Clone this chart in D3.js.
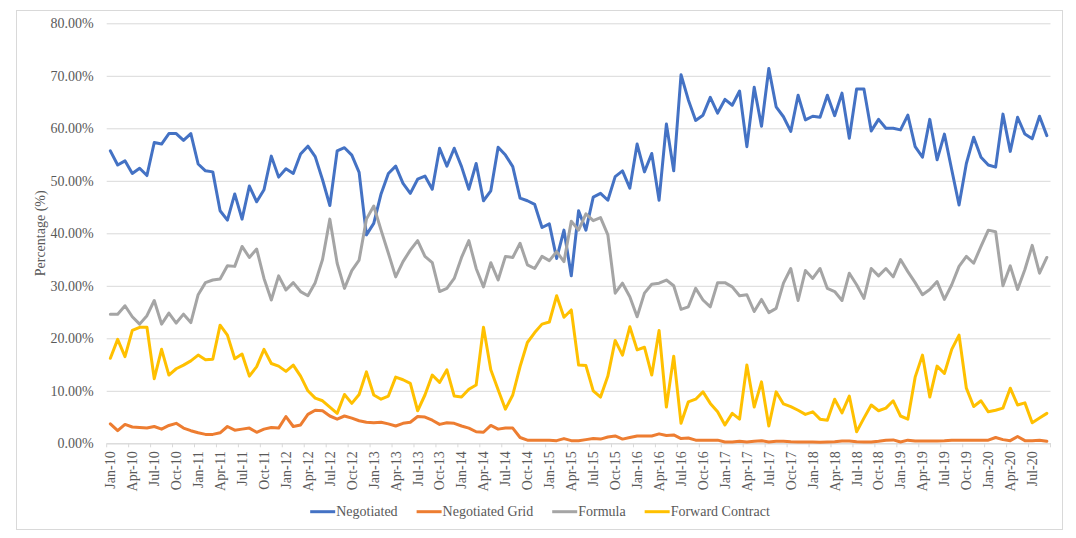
<!DOCTYPE html>
<html>
<head>
<meta charset="utf-8">
<script src="https://cdn.jsdelivr.net/npm/d3@7"></script>
<style>
  body { margin: 0; background: #fff; }
  svg text { font-family: "Liberation Serif", "DejaVu Serif", "Times New Roman", Times, serif !important; fill: #595959; }
</style>
</head>
<body>
<div id="plotDiv"></div>
<script>
// ---- Data (percent values) ----
const months = d3.timeMonth.range(new Date(2010, 0, 1), new Date(2020, 9, 1)); // Jan-10 .. Sep-20
const categories = months.map(d3.timeFormat("%b-%y"));
const tickLabels = categories.filter((d, i) => i % 3 === 0);
const yTicks = [0, 10, 20, 30, 40, 50, 60, 70, 80];

const negotiated = [
  55.7, 53.0, 53.8, 51.4, 52.4, 51.0, 57.3, 57.0, 59.0, 59.0, 57.7, 59.0, 53.2, 51.9, 51.7, 44.3, 42.5, 47.5, 42.7, 49.0, 46.0,
  48.3, 54.7, 50.7, 52.3, 51.4, 55.1, 56.6, 54.6, 50.2, 45.3, 55.7, 56.3, 54.9, 51.6, 39.7, 41.9, 47.5, 51.4, 52.8, 49.5, 47.6,
  50.3, 50.9, 48.4, 56.2, 52.8, 56.2, 52.7, 48.4, 53.3, 46.2, 48.1, 56.4, 54.9, 52.7, 46.7, 46.2, 45.5, 41.1, 41.8, 35.2, 40.6,
  31.9, 44.3, 40.6, 46.9, 47.6, 46.3, 50.8, 51.9, 48.6, 57.0, 51.7, 55.2, 46.3, 60.8, 51.9, 70.2, 65.4, 61.5, 62.5, 65.9, 62.9, 65.5,
  64.4, 67.1, 56.5, 67.8, 60.4, 71.4, 64.1, 62.2, 59.4, 66.3, 61.6, 62.3, 62.1, 66.3, 62.4, 66.7, 58.1, 67.5, 67.5, 59.5, 61.7,
  60.0, 60.0, 59.7, 62.5, 56.5, 54.5, 61.7, 54.0, 58.9, 52.1, 45.4, 53.3, 58.3, 54.5, 53.0, 52.6, 62.7, 55.6, 62.1, 58.9, 58.0, 62.3, 58.6
];
const negotiatedGrid = [
  3.7, 2.4, 3.6, 3.1, 3.0, 2.9, 3.2, 2.7, 3.4, 3.8, 2.9, 2.4, 2.0, 1.7, 1.7, 2.0, 3.2, 2.5, 2.7, 2.9, 2.1,
  2.7, 3.0, 2.9, 5.1, 3.2, 3.5, 5.5, 6.3, 6.2, 5.2, 4.6, 5.2, 4.8, 4.3, 4.0, 3.9, 4.0, 3.7, 3.3, 3.8, 4.0,
  5.1, 5.0, 4.4, 3.6, 3.9, 3.8, 3.3, 2.9, 2.2, 2.1, 3.4, 2.7, 2.9, 2.9, 1.1, 0.6, 0.6, 0.6, 0.6, 0.5, 0.9,
  0.5, 0.5, 0.7, 0.9, 0.8, 1.2, 1.4, 0.8, 1.1, 1.4, 1.4, 1.4, 1.8, 1.5, 1.6, 0.9, 1.0, 0.6, 0.6, 0.6, 0.6, 0.25,
  0.25, 0.4, 0.25, 0.4, 0.5, 0.25, 0.4, 0.4, 0.3, 0.25, 0.25, 0.25, 0.2, 0.25, 0.3, 0.45, 0.45, 0.3, 0.25, 0.25, 0.4,
  0.6, 0.65, 0.25, 0.6, 0.45, 0.45, 0.45, 0.45, 0.5, 0.6, 0.6, 0.6, 0.6, 0.6, 0.6, 1.1, 0.7, 0.5, 1.3, 0.5, 0.5, 0.6, 0.4
];
const formula = [
  24.6, 24.6, 26.2, 24.1, 22.7, 24.3, 27.2, 22.7, 24.8, 22.9, 24.6, 23.0, 28.3, 30.6, 31.1, 31.3, 33.8, 33.7, 37.5, 35.4, 37.0,
  31.4, 27.3, 31.9, 29.2, 30.6, 28.9, 28.1, 30.6, 35.0, 42.7, 34.3, 29.5, 32.9, 34.9, 42.7, 45.2, 40.6, 36.2, 31.7, 34.6, 36.8,
  38.6, 35.6, 34.4, 28.9, 29.5, 31.4, 35.4, 38.6, 33.3, 29.8, 34.4, 31.1, 35.6, 35.4, 38.1, 34.0, 33.3, 35.6, 34.8, 36.5, 34.6,
  42.3, 40.6, 43.7, 42.4, 43.0, 39.7, 28.6, 30.5, 27.9, 24.1, 28.6, 30.3, 30.5, 31.1, 30.0, 25.5, 26.0, 29.5, 27.3, 26.0, 30.6, 30.6,
  29.8, 28.1, 28.3, 25.1, 27.4, 24.9, 25.7, 30.5, 33.3, 27.2, 32.9, 31.4, 33.3, 29.5, 28.9, 27.2, 32.4, 30.2, 27.6, 33.3, 31.9,
  33.3, 31.7, 35.0, 32.7, 30.6, 28.3, 29.3, 30.8, 27.4, 30.2, 33.7, 35.6, 34.3, 37.5, 40.6, 40.3, 30.0, 33.8, 29.3, 33.1, 37.7, 32.4, 35.4
];
const forwardContract = [
  16.2, 19.8, 16.5, 21.5, 22.1, 22.1, 12.3, 17.9, 13.0, 14.2, 14.9, 15.7, 16.8, 15.9, 16.0, 22.5, 20.6, 16.1, 17.0, 12.8, 14.6,
  17.9, 15.2, 14.7, 13.7, 14.9, 12.8, 10.0, 8.6, 8.1, 6.9, 5.7, 9.3, 7.6, 9.3, 13.6, 9.2, 8.4, 9.0, 12.6, 12.1, 11.4,
  6.2, 9.2, 13.0, 11.6, 14.0, 9.0, 8.8, 10.3, 11.1, 22.1, 14.0, 10.2, 6.5, 9.2, 14.6, 19.2, 21.1, 22.7, 23.1, 28.1, 24.0,
  25.4, 14.9, 14.8, 10.0, 8.8, 12.8, 19.6, 16.8, 22.2, 17.8, 18.3, 13.0, 21.5, 6.9, 16.6, 3.8, 7.9, 8.4, 9.8, 7.6, 6.0, 3.5,
  5.7, 4.6, 14.9, 6.9, 11.7, 3.3, 9.8, 7.5, 7.0, 6.3, 5.5, 6.0, 4.6, 4.4, 8.4, 5.8, 9.0, 2.2, 4.8, 7.3, 6.2,
  6.7, 8.1, 5.2, 4.6, 12.6, 16.8, 8.8, 14.7, 13.3, 17.9, 20.6, 10.5, 7.0, 8.1, 6.0, 6.3, 6.7, 10.5, 7.3, 7.7, 3.9, 4.8, 5.7
];

const seriesNames = ["Negotiated", "Negotiated Grid", "Formula", "Forward Contract"];
const seriesValues = [negotiated, negotiatedGrid, formula, forwardContract];
const seriesColors = ["#4472C4", "#ED7D31", "#A5A5A5", "#FFC000"];

// ---- SVG setup ----
const width = 1076, height = 538;
const plot = {left: 106.7, right: 1050.5, top: 23.3, bottom: 443.3};

const svg = d3.select("#plotDiv").append("svg")
    .attr("width", width)
    .attr("height", height)
    .attr("font-family", "Liberation Serif, DejaVu Serif, serif");

svg.append("rect") // chart frame
    .attr("x", 16.5).attr("y", 10.5)
    .attr("width", 1046).attr("height", 519)
    .attr("fill", "#fff")
    .attr("stroke", "#D9D9D9");

// ---- Scales ----
const xScale = d3.scaleBand()
    .domain(categories)
    .range([plot.left, plot.right])
    .padding(0);

const yScale = d3.scaleLinear()
    .domain([0, 80])
    .range([plot.bottom, plot.top]);

const xMid = d => xScale(d) + xScale.bandwidth() / 2;

// ---- Gridlines + y axis ----
const yAxis = d3.axisLeft(yScale)
    .tickValues(yTicks)
    .tickSize(-(plot.right - plot.left))
    .tickPadding(13)
    .tickFormat(d => d.toFixed(2) + "%");

svg.append("g")
    .attr("transform", `translate(${plot.left},0)`)
    .call(yAxis)
    .attr("font-family", null)
    .attr("font-size", 14)
    .call(g => g.select(".domain").remove())
    .call(g => g.selectAll(".tick line").attr("stroke", "#D9D9D9"))
    .call(g => g.selectAll(".tick text").attr("fill", "#595959"));

// ---- x axis ----
const xAxis = d3.axisBottom(xScale)
    .tickValues(tickLabels)
    .tickSize(0);

const xg = svg.append("g")
    .attr("transform", `translate(0,${plot.bottom})`)
    .call(xAxis)
    .attr("font-family", null)
    .attr("font-size", 14);

xg.select(".domain").attr("stroke", "#D9D9D9");
xg.selectAll(".tick text")
    .attr("transform", "rotate(-90)")
    .attr("x", -8)
    .attr("y", 0)
    .attr("dy", "0.35em")
    .style("text-anchor", "end")
    .attr("fill", "#595959");

// tick marks sit on the band edges, every 3 months
xg.selectAll(".edge")
    .data(tickLabels.concat([null]))
    .enter().append("line")
    .attr("x1", d => d === null ? plot.right : xScale(d))
    .attr("x2", d => d === null ? plot.right : xScale(d))
    .attr("y1", 0).attr("y2", 4)
    .attr("stroke", "#D9D9D9");

// ---- Lines ----
const line = d3.line()
    .x((d, i) => xMid(categories[i]))
    .y(d => yScale(d));

svg.selectAll(".series")
    .data(seriesValues)
    .enter().append("path")
    .attr("class", "series")
    .attr("d", d => line(d))
    .attr("fill", "none")
    .attr("stroke", (d, i) => seriesColors[i])
    .attr("stroke-width", 3)
    .attr("stroke-linejoin", "round")
    .attr("stroke-linecap", "round");

// ---- Y axis title ----
svg.append("text")
    .attr("transform", `translate(45,${(plot.top + plot.bottom) / 2}) rotate(-90)`)
    .attr("text-anchor", "middle")
    .attr("font-size", 14)
    .text("Percentage (%)");

// ---- Legend ----
const legend = svg.append("g").attr("font-size", 14);
const items = legend.selectAll("g")
    .data(seriesNames)
    .enter().append("g");

items.append("line")
    .attr("x1", 0).attr("x2", 25)
    .attr("y1", 0).attr("y2", 0)
    .attr("stroke", (d, i) => seriesColors[i])
    .attr("stroke-width", 3);

items.append("text")
    .attr("x", 26)
    .attr("dy", "0.33em")
    .text(d => d);

let offset = 0;
items.each(function() {
    d3.select(this).attr("transform", `translate(${offset},0)`);
    offset += 26 + d3.select(this).select("text").node().getComputedTextLength() + 19;
});
legend.attr("transform", `translate(${540 - (offset - 19) / 2},511.7)`);
</script>
</body>
</html>
